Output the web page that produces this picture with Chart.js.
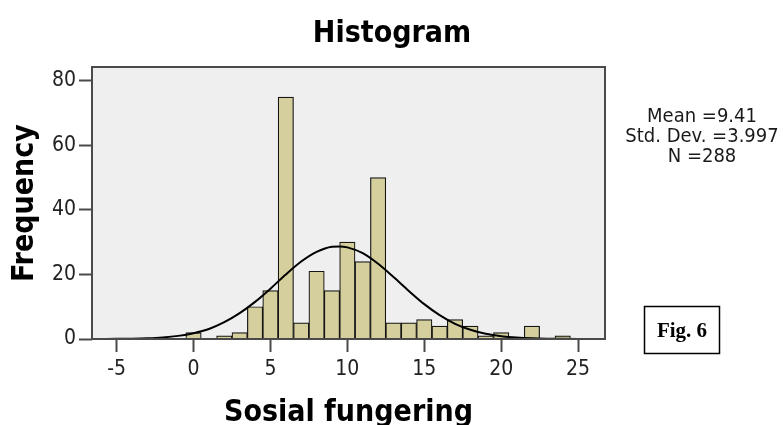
<!DOCTYPE html>
<html>
<head>
<meta charset="utf-8">
<script src="https://cdn.jsdelivr.net/npm/chart.js@4/dist/chart.umd.min.js"></script>
<style>
  html, body { margin: 0; padding: 0; background: #fff; }
  #wrap { width: 784px; height: 425px; position: relative; }
</style>
</head>
<body>
<div id="wrap"><canvas id="chart"></canvas></div>
<script>
// histogram bins (value, count)
const binCenters = [0, 1, 2, 3, 4, 5, 6, 7, 8, 9, 10, 11, 12, 13, 14, 15, 16, 17, 18, 19, 20, 21, 22, 23, 24];
const frequencies = [2, 0, 1, 2, 10, 15, 75, 5, 21, 15, 30, 24, 50, 5, 5, 6, 4, 6, 4, 1, 2, 0, 4, 0, 1];

// the normal curve overlay
const curveX = [-6, -5, -4, -3, -2, -1, 0, 1, 2, 3, 4, 5, 6, 7, 8, 9, 9.5, 10, 11, 12, 13, 14, 15, 16, 17, 18, 19, 20, 21, 22, 23, 24, 25, 26];
const curveY = [0.02, 0.04, 0.1, 0.23, 0.49, 0.97, 1.8, 3.1, 5.2, 8.0, 11.5, 15.6, 20.0, 24.0, 27.0, 28.6, 28.7, 28.4, 26.6, 23.3, 19.2, 14.9, 10.8, 7.4, 4.7, 2.85, 1.6, 0.86, 0.43, 0.2, 0.09, 0.04, 0.015, 0.005];

const xTicks = [-5, 0, 5, 10, 15, 20, 25];
const yTicks = [0, 20, 40, 60, 80];

const statLines = ['Mean =9.41', 'Std. Dev. =3.997', 'N =288'];

const FONT = "'DejaVu Sans Condensed', 'DejaVu Sans', sans-serif";
const BAR_FILL = '#d4cf9c';
const PLOT_BG = '#efefef';
const FRAME = '#4a4a4a';
const TICK_TEXT = '#222';

const plotBackground = {
  id: 'plotBackground',
  beforeDraw(chart) {
    const { ctx, chartArea: a } = chart;
    ctx.save();
    ctx.fillStyle = PLOT_BG;
    ctx.fillRect(a.left, a.top, a.right - a.left, a.bottom - a.top);
    ctx.restore();
  },
  afterDatasetsDraw(chart) {
    const { ctx, chartArea: a } = chart;
    ctx.save();
    ctx.strokeStyle = FRAME;
    ctx.lineWidth = 2;
    ctx.strokeRect(a.left, a.top, a.right - a.left, a.bottom - a.top);
    ctx.restore();
  },
};

const sideNotes = {
  id: 'sideNotes',
  afterDraw(chart) {
    const { ctx } = chart;
    ctx.save();
    ctx.fillStyle = '#000';
    ctx.textAlign = 'center';
    ctx.textBaseline = 'alphabetic';
    ctx.font = `bold 30px ${FONT}`;
    ctx.fillText('Histogram', 392, 42);

    ctx.fillStyle = '#1a1a1a';
    ctx.font = `20px ${FONT}`;
    statLines.forEach((line, i) => {
      ctx.fillText(line, 702, 122 + i * 20);
    });

    ctx.strokeStyle = '#000';
    ctx.lineWidth = 1.5;
    ctx.strokeRect(644.5, 306.5, 75, 47);
    ctx.fillStyle = '#000';
    ctx.font = "bold 21px 'Liberation Serif', 'Times New Roman', serif";
    ctx.fillText('Fig. 6', 682, 337);
    ctx.restore();
  },
};

new Chart(document.getElementById('chart'), {
  type: 'bar',
  data: {
    datasets: [
      {
        type: 'line',
        data: curveX.map((x, i) => ({ x, y: curveY[i] })),
        borderColor: '#000',
        borderWidth: 2,
        pointRadius: 0,
        fill: false,
        cubicInterpolationMode: 'monotone',
        order: 0,
      },
      {
        type: 'bar',
        data: binCenters.map((x, i) => ({ x, y: frequencies[i] })),
        backgroundColor: BAR_FILL,
        borderColor: '#151515',
        borderWidth: 1.2,
        barPercentage: 1,
        categoryPercentage: 1,
        order: 1,
      },
    ],
  },
  plugins: [plotBackground, sideNotes],
  options: {
    responsive: true,
    maintainAspectRatio: false,
    animation: false,
    events: [],
    layout: { padding: { top: 67, right: 179, left: 0, bottom: 0 } },
    plugins: {
      legend: { display: false },
      tooltip: { enabled: false },
    },
    scales: {
      x: {
        type: 'linear',
        offset: false,
        min: -6.6,
        max: 26.75,
        afterBuildTicks: (axis) => { axis.ticks = xTicks.map((v) => ({ value: v })); },
        afterFit: (axis) => { axis.height = 86; },
        ticks: {
          color: TICK_TEXT,
          font: { family: FONT, size: 21 },
          padding: 5,
          maxRotation: 0,
          callback: (v) => String(v),
        },
        grid: {
          display: true,
          offset: false,
          drawOnChartArea: false,
          drawTicks: true,
          tickLength: 13,
          tickWidth: 2,
          tickColor: FRAME,
        },
        border: { display: false },
        title: {
          display: true,
          text: 'Sosial fungering',
          color: '#000',
          font: { family: FONT, size: 30, weight: 'bold' },
          padding: { top: 0, bottom: -6 },
        },
      },
      y: {
        min: 0,
        max: 84.3,
        afterBuildTicks: (axis) => { axis.ticks = yTicks.map((v) => ({ value: v })); },
        afterFit: (axis) => { axis.width = 92; },
        ticks: {
          color: TICK_TEXT,
          font: { family: FONT, size: 21 },
          padding: 3,
        },
        grid: {
          display: true,
          drawOnChartArea: false,
          drawTicks: true,
          tickLength: 13,
          tickWidth: 2,
          tickColor: FRAME,
        },
        border: { display: false },
        title: {
          display: true,
          text: 'Frequency',
          color: '#000',
          font: { family: FONT, size: 30, weight: 'bold' },
          padding: { top: 7, bottom: 0 },
        },
      },
    },
  },
});
</script>
</body>
</html>
